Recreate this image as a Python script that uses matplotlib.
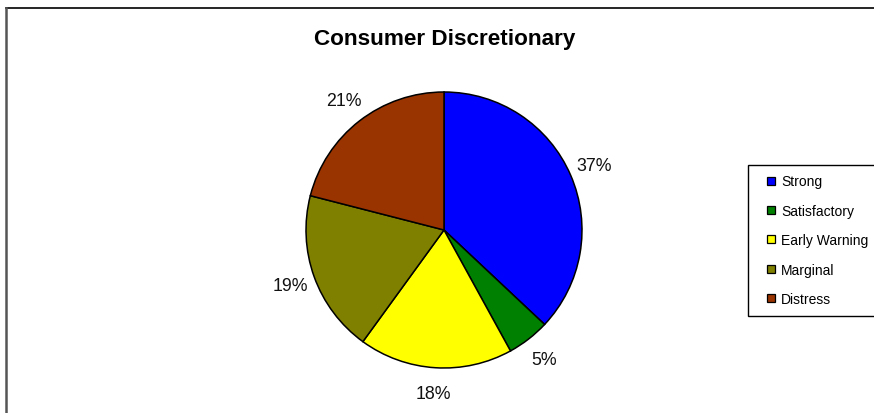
import matplotlib.pyplot as plt
from matplotlib.lines import Line2D

# Sector breakdown
categories = ["Strong", "Satisfactory", "Early Warning", "Marginal", "Distress"]
shares = [37, 5, 18, 19, 21]
colors = ["#0000FF", "#008000", "#FFFF00", "#808000", "#993300"]
title = "Consumer Discretionary"

plt.rcParams["font.family"] = ["Liberation Sans", "DejaVu Sans"]

W, H = 874, 414
fig = plt.figure(figsize=(W / 100, H / 100), dpi=100)
fig.patch.set_facecolor("white")

# chart frame (top and left edges)
fig.add_artist(Line2D([5.5 / W, 1.0], [1 - 8.5 / H, 1 - 8.5 / H], color="black", lw=1.2))
fig.add_artist(Line2D([5.5 / W, 5.5 / W], [0.0, 1 - 8.5 / H], color="#555555", lw=1.8))

# pie axes: centre (444, 231) px, radius 138 px, default limits +-1.25
cx, cy, r = 444, 231, 138
side = 2.5 * r
ax = fig.add_axes([(cx - side / 2) / W, (H - cy - side / 2) / H, side / W, side / H])

wedges, texts = ax.pie(
    shares,
    colors=colors,
    labels=[f"{v}%" for v in shares],
    startangle=90,
    counterclock=False,
    labeldistance=1.185,
    wedgeprops={"edgecolor": "black", "linewidth": 1.1},
    textprops={"fontsize": 12.8, "color": "#111111"},
)
for t in texts:
    t.set_ha("center")
    t.set_va("center")
ax.set_xlim(-1.25, 1.25)
ax.set_ylim(-1.25, 1.25)
ax.set_aspect("equal")

fig.text(445 / W, 1 - 40 / H, title, ha="center", va="center",
         fontsize=16.2, fontweight="bold", color="black")

handles = [
    Line2D([], [], linestyle="none", marker="s", markersize=5.4,
           markerfacecolor=c, markeredgecolor="black", markeredgewidth=0.9)
    for c in colors
]
leg = fig.legend(
    handles,
    categories,
    loc="upper left",
    bbox_to_anchor=(748 / W, 1 - 166 / H),
    bbox_transform=fig.transFigure,
    fontsize=10,
    frameon=True,
    fancybox=False,
    edgecolor="black",
    framealpha=1,
    borderpad=0.68,
    handlelength=1.96,
    handletextpad=-0.26,
    labelspacing=1.11,
    borderaxespad=0,
)
leg.get_frame().set_linewidth(1.0)

fig.savefig("out.png", dpi=100)
